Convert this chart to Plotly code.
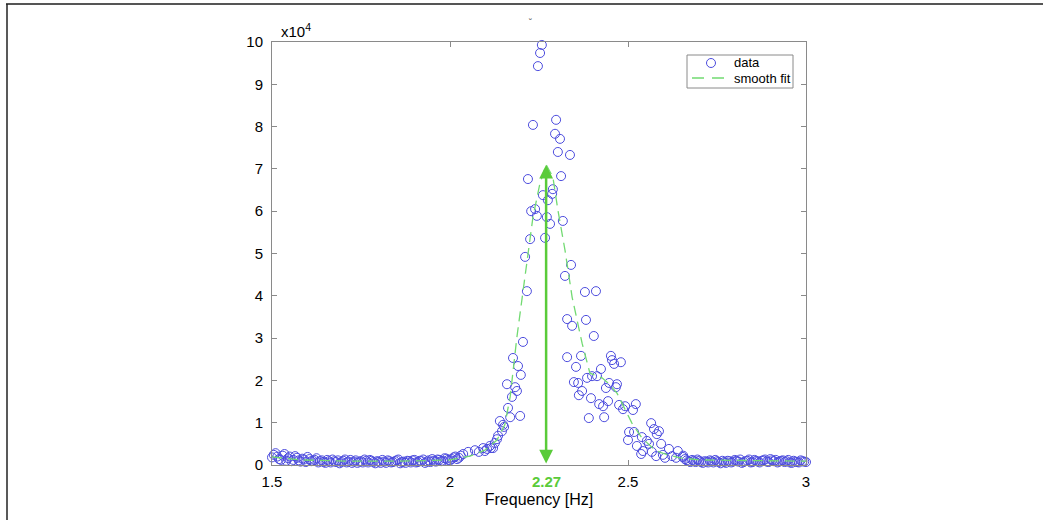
import plotly.graph_objects as go

# ---------------- data (x in Hz, y in units of 1e4) ----------------
base_left_x = [1.50, 1.51, 1.52, 1.53, 1.54, 1.55, 1.56, 1.57, 1.58, 1.59,
               1.60, 1.61, 1.62, 1.63, 1.64, 1.65, 1.66, 1.67, 1.68, 1.69,
               1.70, 1.71, 1.72, 1.73, 1.74, 1.75, 1.76, 1.77, 1.78, 1.79,
               1.80, 1.81, 1.82, 1.83, 1.84, 1.85, 1.86, 1.87, 1.88, 1.89,
               1.90, 1.91, 1.92, 1.93, 1.94, 1.95, 1.96, 1.97, 1.98, 1.99,
               2.00, 2.01, 2.02, 2.03]
base_left_y = [0.18, 0.28, 0.14, 0.22, 0.10, 0.20, 0.12, 0.17, 0.08, 0.13,
               0.19, 0.09, 0.12, 0.06, 0.11, 0.05, 0.09, 0.13, 0.07, 0.04,
               0.10, 0.06, 0.12, 0.08, 0.05, 0.09, 0.13, 0.06, 0.10, 0.04,
               0.08, 0.12, 0.05, 0.09, 0.07, 0.11, 0.04, 0.08, 0.10, 0.06,
               0.12, 0.07, 0.09, 0.05, 0.11, 0.14, 0.08, 0.12, 0.10, 0.15,
               0.11, 0.18, 0.14, 0.22]

base_left_mid_x = [1.505, 1.515, 1.525, 1.535, 1.545, 1.555, 1.565, 1.575, 1.585, 1.595,
                   1.605, 1.615, 1.625, 1.635, 1.645, 1.655, 1.665, 1.675, 1.685, 1.695,
                   1.705, 1.715, 1.725, 1.735, 1.745, 1.755, 1.765, 1.775, 1.785, 1.795,
                   1.805, 1.815, 1.825, 1.835, 1.845, 1.855, 1.865, 1.875, 1.885, 1.895,
                   1.905, 1.915, 1.925, 1.935, 1.945, 1.955, 1.965, 1.975, 1.985, 1.995,
                   2.005, 2.015, 2.025]
base_left_mid_y = [0.24, 0.20, 0.12, 0.26, 0.16, 0.09, 0.21, 0.11, 0.15, 0.07,
                   0.14, 0.10, 0.16, 0.09, 0.07, 0.12, 0.06, 0.09, 0.11, 0.07,
                   0.13, 0.08, 0.05, 0.11, 0.08, 0.06, 0.10, 0.12, 0.07, 0.09,
                   0.05, 0.08, 0.11, 0.06, 0.09, 0.13, 0.07, 0.05, 0.09, 0.11,
                   0.06, 0.10, 0.13, 0.08, 0.07, 0.10, 0.13, 0.09, 0.16, 0.12,
                   0.14, 0.20, 0.17]

peak_x = [2.037, 2.051, 2.070, 2.081, 2.093, 2.098, 2.104, 2.112, 2.115, 2.121,
          2.126, 2.132, 2.135, 2.140, 2.146, 2.149, 2.152, 2.160, 2.163, 2.169,
          2.174, 2.177, 2.183, 2.188, 2.191, 2.197, 2.199, 2.205, 2.211, 2.216,
          2.219, 2.225, 2.228, 2.233, 2.239, 2.244, 2.247, 2.253, 2.258, 2.261,
          2.267, 2.272, 2.275, 2.281, 2.287, 2.289, 2.295, 2.298, 2.303, 2.309,
          2.312, 2.317, 2.323, 2.329, 2.329, 2.337, 2.340, 2.343, 2.348, 2.354,
          2.360, 2.362, 2.368, 2.371, 2.379, 2.382, 2.385, 2.390, 2.396, 2.399,
          2.404, 2.410, 2.413, 2.419, 2.424, 2.430, 2.433, 2.438, 2.444, 2.447,
          2.452, 2.455, 2.461, 2.466, 2.469, 2.475, 2.480, 2.486, 2.492, 2.500,
          2.503, 2.514, 2.517, 2.522, 2.525, 2.537, 2.539, 2.542, 2.553, 2.559,
          2.565, 2.567, 2.573, 2.579, 2.581, 2.587, 2.593, 2.598, 2.604, 2.615,
          2.624, 2.635, 2.640, 2.654]
peak_y = [0.26, 0.31, 0.35, 0.31, 0.40, 0.33, 0.38, 0.45, 0.40, 0.40,
          0.52, 0.61, 0.69, 1.04, 0.80, 0.95, 0.90, 1.91, 1.35, 1.13,
          1.61, 2.53, 1.84, 1.75, 2.34, 1.16, 2.13, 2.91, 4.92, 4.11,
          6.76, 5.34, 6.00, 8.04, 6.05, 5.89, 9.43, 9.74, 9.93, 6.38,
          5.37, 5.86, 6.26, 5.70, 6.41, 6.52, 7.83, 8.16, 7.40, 7.71,
          6.83, 5.77, 4.47, 3.45, 2.55, 7.33, 4.73, 3.29, 1.96, 2.32,
          1.94, 1.65, 2.58, 1.75, 4.09, 3.43, 2.06, 1.11, 1.58, 2.10,
          3.05, 4.11, 2.10, 1.44, 2.27, 1.39, 1.13, 1.82, 1.51, 1.94,
          2.58, 2.48, 2.39, 1.84, 1.91, 1.42, 2.43, 1.32, 1.39, 0.59,
          0.78, 1.30, 0.78, 1.44, 0.45, 0.26, 0.66, 0.33, 0.57, 0.50,
          0.99, 0.31, 0.85, 0.21, 0.73, 0.80, 0.50, 0.24, 0.17, 0.38,
          0.21, 0.17, 0.33, 0.19]

base_right_x = [2.66, 2.67, 2.68, 2.69, 2.70, 2.71, 2.72, 2.73, 2.74, 2.75,
                2.76, 2.77, 2.78, 2.79, 2.80, 2.81, 2.82, 2.83, 2.84, 2.85,
                2.86, 2.87, 2.88, 2.89, 2.90, 2.91, 2.92, 2.93, 2.94, 2.95,
                2.96, 2.97, 2.98, 2.99, 3.00]
base_right_y = [0.14, 0.09, 0.12, 0.07, 0.10, 0.05, 0.08, 0.11, 0.06, 0.09,
                0.04, 0.07, 0.10, 0.06, 0.12, 0.08, 0.05, 0.09, 0.13, 0.07,
                0.10, 0.06, 0.11, 0.08, 0.14, 0.09, 0.06, 0.10, 0.07, 0.12,
                0.05, 0.08, 0.06, 0.09, 0.07]

base_right_mid_x = [2.655, 2.665, 2.675, 2.685, 2.695, 2.705, 2.715, 2.725, 2.735, 2.745,
                    2.755, 2.765, 2.775, 2.785, 2.795, 2.805, 2.815, 2.825, 2.835, 2.845,
                    2.855, 2.865, 2.875, 2.885, 2.895, 2.905, 2.915, 2.925, 2.935, 2.945,
                    2.955, 2.965, 2.975, 2.985, 2.995]
base_right_mid_y = [0.22, 0.11, 0.07, 0.10, 0.13, 0.07, 0.09, 0.06, 0.09, 0.12,
                    0.07, 0.10, 0.05, 0.09, 0.08, 0.10, 0.13, 0.07, 0.10, 0.06,
                    0.12, 0.08, 0.10, 0.13, 0.07, 0.11, 0.12, 0.08, 0.11, 0.09,
                    0.06, 0.10, 0.07, 0.11, 0.08]

fit_x = [1.500, 1.579, 1.719, 1.860, 2.000, 2.056, 2.098, 2.132, 2.154, 2.169,
         2.188, 2.205, 2.219, 2.233, 2.253, 2.270, 2.289, 2.303, 2.323, 2.343,
         2.371, 2.393, 2.427, 2.444, 2.469, 2.486, 2.511, 2.539, 2.576, 2.604,
         2.646, 2.702, 2.850, 3.000]
fit_y = [0.19, 0.12, 0.09, 0.09, 0.12, 0.21, 0.35, 0.59, 0.95, 1.61,
         3.03, 4.09, 5.08, 5.86, 6.67, 7.10, 6.81, 6.03, 5.08, 3.97,
         2.88, 2.17, 2.06, 1.94, 1.70, 1.42, 0.99, 0.64, 0.35, 0.26,
         0.17, 0.12, 0.10, 0.09]

peak_freq = 2.27
peak_fit = 7.10

x_ticks = [1.5, 2, 2.5, 3]
x_tick_text = ["1.5", "2", "2.5", "3"]
y_ticks = [0, 1, 2, 3, 4, 5, 6, 7, 8, 9, 10]
legend_labels = ["data", "smooth fit"]

data_x = base_left_x + base_left_mid_x + peak_x + base_right_mid_x + base_right_x
data_y = base_left_y + base_left_mid_y + peak_y + base_right_mid_y + base_right_y

# ---------------- figure ----------------
W, H = 1043, 520
L, R, T, B = 272, 806, 42, 465

FONT = "Liberation Sans, Arial, Helvetica, sans-serif"
GREEN = "#5acb3a"
BLUE = "rgb(76,76,222)"
FITGREEN = "#72da72"


def px_x(p):
    return (p - L) / (R - L)


def px_y(p):
    return (B - p) / (B - T)


fig = go.Figure()
fig.add_trace(go.Scatter(
    x=data_x, y=data_y, mode="markers", name=legend_labels[0],
    marker=dict(symbol="circle-open", size=9, color=BLUE,
                line=dict(width=1, color=BLUE)),
    cliponaxis=False, showlegend=False,
))
fig.add_trace(go.Scatter(
    x=fit_x, y=fit_y, mode="lines", name=legend_labels[1],
    line=dict(color=FITGREEN, width=1.3, dash="10px,6px"),
    showlegend=False,
))

axis_common = dict(
    showgrid=False, zeroline=False, showline=True, linecolor="#8a8a8a",
    linewidth=1, mirror="ticks", ticks="inside", ticklen=5, tickcolor="#8a8a8a",
    tickfont=dict(family=FONT, size=15, color="black"),
)

fig.update_layout(
    width=W, height=H,
    margin=dict(l=L, r=W - R, t=T, b=H - B, pad=0),
    paper_bgcolor="white", plot_bgcolor="white",
    showlegend=False,
    xaxis=dict(range=[1.5, 3], tickvals=x_ticks, ticktext=x_tick_text,
               ticklabelstandoff=3,
               title=dict(text="Frequency [Hz]", standoff=4,
                          font=dict(family=FONT, size=16, color="black")),
               **axis_common),
    yaxis=dict(range=[0, 10], tickvals=y_ticks, ticklabelstandoff=5,
               **axis_common),
)

# manual legend box (matches the compact reference legend)
fig.add_shape(type="rect", xref="paper", yref="paper",
              x0=px_x(687), x1=px_x(793), y0=px_y(88), y1=px_y(55),
              line=dict(color="#8a8a8a", width=1), fillcolor="white", layer="above")
fig.add_shape(type="circle", xref="paper", yref="paper",
              x0=px_x(706.5), x1=px_x(715.5), y0=px_y(67.5), y1=px_y(58.5),
              line=dict(color=BLUE, width=1), layer="above")
fig.add_shape(type="line", xref="paper", yref="paper",
              x0=px_x(692), x1=px_x(724), y0=px_y(78), y1=px_y(78),
              line=dict(color=FITGREEN, width=1.3, dash="12px,8px"), layer="above")
fig.add_annotation(x=px_x(732), y=px_y(63), xref="paper", yref="paper",
                   xanchor="left", yanchor="middle", text=legend_labels[0],
                   showarrow=False, font=dict(family=FONT, size=13, color="black"))
fig.add_annotation(x=px_x(732), y=px_y(78), xref="paper", yref="paper",
                   xanchor="left", yanchor="middle", text=legend_labels[1],
                   showarrow=False, font=dict(family=FONT, size=13, color="black"))

# double-headed arrow marking the peak frequency
fig.add_annotation(
    x=peak_freq, y=peak_fit, ax=peak_freq, ay=0,
    xref="x", yref="y", axref="x", ayref="y",
    text="", showarrow=True, arrowhead=2, startarrowhead=2,
    arrowside="end+start", arrowsize=1.1, startarrowsize=1.1,
    arrowwidth=2.5, arrowcolor=GREEN, standoff=0, startstandoff=0,
)
fig.add_annotation(
    x=peak_freq, y=0, xref="x", yref="y", yanchor="top", yshift=-6,
    text="<b>2.27</b>", showarrow=False,
    font=dict(family=FONT, size=15, color=GREEN),
)
# exponent label
fig.add_annotation(
    x=0, y=1, xref="paper", yref="paper", xanchor="left", yanchor="bottom",
    xshift=7, yshift=0, text="x10<sup>4</sup>", showarrow=False,
    font=dict(family=FONT, size=15, color="black"),
)
# tiny mark at top center
fig.add_annotation(
    x=px_x(530), y=px_y(15), xref="paper", yref="paper",
    text="˘", showarrow=False, font=dict(family=FONT, size=9, color="#555"),
)

# outer frame lines (top and left)
fig.add_shape(type="line", xref="paper", yref="paper",
              x0=px_x(6), x1=px_x(1043), y0=px_y(4), y1=px_y(4),
              line=dict(color="#555555", width=2))
fig.add_shape(type="line", xref="paper", yref="paper",
              x0=px_x(7), x1=px_x(7), y0=px_y(4), y1=px_y(520),
              line=dict(color="#222222", width=1.5))

fig.write_html("out.html")
